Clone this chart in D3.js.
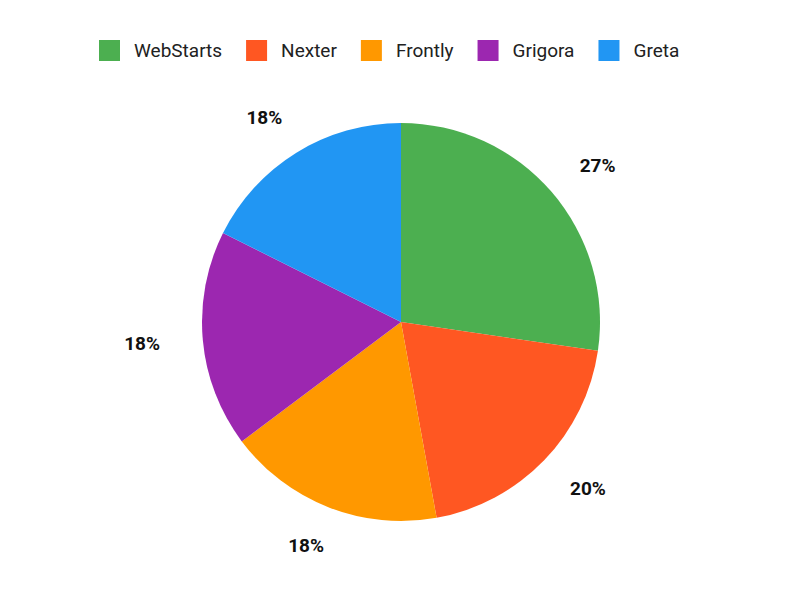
<!DOCTYPE html>
<html lang="en">

<head>
    <meta charset="UTF-8">
    <script src="https://d3js.org/d3.v7.min.js"></script>
    <title>Pie</title>
    <style>
        body {
            margin: 0;
            font-family: Roboto, "Noto Sans", sans-serif;
            background: #fff;
        }

        .legend text {
            font-size: 19px;
            fill: #212121;
        }

        .labels text {
            font-size: 19px;
            font-weight: bold;
            fill: #111;
        }
    </style>
</head>

<body>
    <svg id="chart" width="800" height="600"></svg>

    <script>
        const categories = ["WebStarts", "Nexter", "Frontly", "Grigora", "Greta"];
        const values = [31, 22.5, 20, 20, 20];
        const colors = ["#4CAF50", "#FF5722", "#FF9800", "#9C27B0", "#2196F3"];

        const svg = d3.select('#chart');
        const cx = 401, cy = 322, radius = 199;
        const total = d3.sum(values);

        const pie = d3.pie().sort(null).value(d => d.value);
        const arcs = pie(categories.map((c, i) => ({ name: c, value: values[i], color: colors[i] })));

        const arc = d3.arc().innerRadius(0).outerRadius(radius);

        const g = svg.append('g').attr('transform', `translate(${cx},${cy})`);

        g.selectAll('path')
            .data(arcs)
            .enter()
            .append('path')
            .attr('d', arc)
            .attr('fill', d => d.data.color);

        // percentage labels outside the pie
        const labelR = 240;
        const lbl = g.append('g').attr('class', 'labels');
        lbl.selectAll('text')
            .data(arcs)
            .enter()
            .append('text')
            .attr('text-anchor', 'middle')
            .attr('dominant-baseline', 'central')
            .text(d => Math.round(d.data.value / total * 100) + '%')
            .each(function (d) {
                const a = (d.startAngle + d.endAngle) / 2;
                const w = this.getComputedTextLength();
                const x = Math.sin(a) * (labelR + 2) + Math.sin(a) * w / 2;
                const y = -Math.cos(a) * labelR;
                d3.select(this).attr('x', x).attr('y', y);
            });

        // legend
        const legend = svg.append('g').attr('class', 'legend');
        let lx = 99;
        categories.forEach((c, i) => {
            legend.append('rect')
                .attr('x', lx)
                .attr('y', 40)
                .attr('width', 21)
                .attr('height', 21)
                .attr('fill', colors[i]);
            const t = legend.append('text')
                .attr('x', lx + 35)
                .attr('y', 57)
                .text(c);
            lx += 35 + t.node().getComputedTextLength() + 24;
        });
    </script>
</body>

</html>
